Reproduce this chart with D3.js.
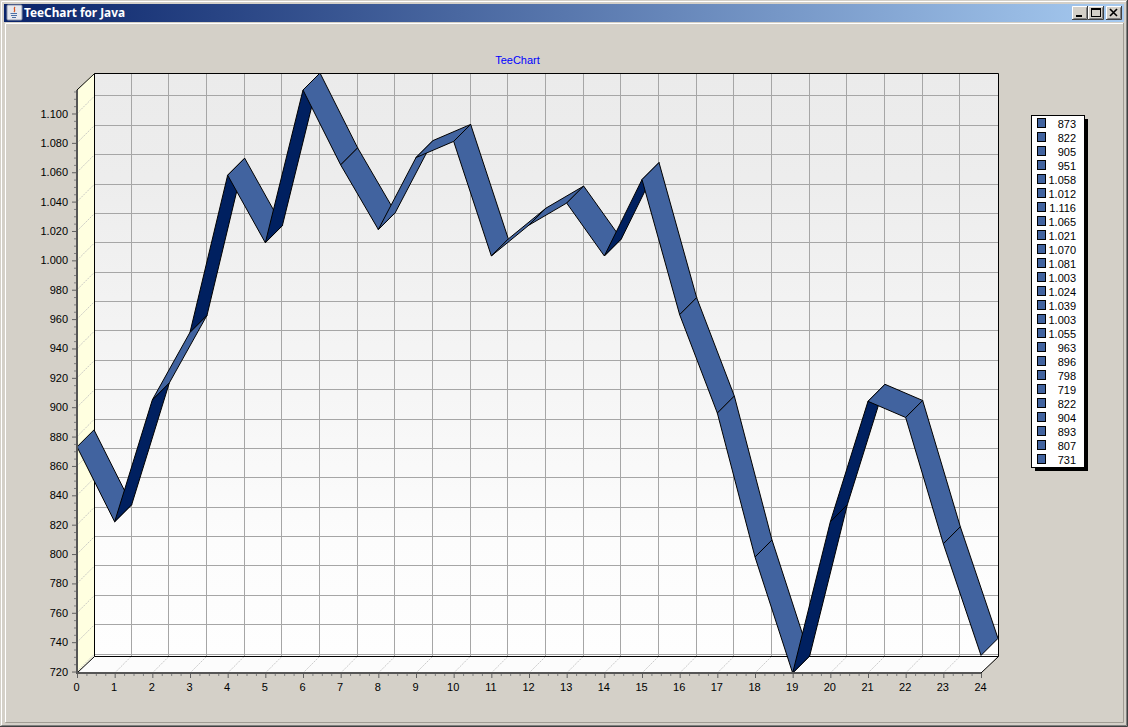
<!DOCTYPE html>
<html>
<head>
<meta charset="utf-8">
<script src="https://cdn.jsdelivr.net/npm/d3@7/dist/d3.min.js"></script>
<style>
html,body{margin:0;padding:0;background:#D4D0C8;overflow:hidden}
svg{display:block}
text{font-family:"Liberation Sans",Arial,sans-serif;font-size:11px;fill:#000}
</style>
</head>
<body>
<svg id="c" width="1128" height="727"></svg>
<script>
const windowTitle = "TeeChart for Java";
const chartTitle = "TeeChart";
const categories = d3.range(0, 25);
const values = [873,822,905,951,1058,1012,1116,1065,1021,1070,1081,1003,1024,1039,1003,1055,963,896,798,719,822,904,893,807,731];
const yTicks = d3.range(720, 1101, 20);
const yMinorTicks = d3.range(720, 1116, 5).filter(v => v % 20 !== 0);
const xMinorTicks = d3.range(0, 24.01, 0.25).filter(v => v % 1 !== 0);

const fmt = d3.formatLocale({decimal:",",thousands:".",grouping:[3],currency:["",""]}).format(",d");
const svg = d3.select("#c");
const depth = 17;
const x = d3.scaleLinear().domain([0,24]).range([77,981]);
const y = d3.scaleLinear().domain([719,1116]).range([673,90]);
const px = v => Math.floor(v-0.5)+0.5;

const defs = svg.append("defs");
const tg = defs.append("linearGradient").attr("id","titleG");
tg.append("stop").attr("offset","0").attr("stop-color","#0A246A");
tg.append("stop").attr("offset","1").attr("stop-color","#A6CAF0");
const wg = defs.append("linearGradient").attr("id","wallG").attr("x2",0).attr("y2",1);
wg.append("stop").attr("offset","0").attr("stop-color","#EBEBEB");
wg.append("stop").attr("offset","0.18").attr("stop-color","#EDEDED");
wg.append("stop").attr("offset","0.8").attr("stop-color","#FCFCFC");
wg.append("stop").attr("offset","1").attr("stop-color","#FEFEFE");

// window chrome
const chrome = svg.append("g");
chrome.append("rect").attr("width",1128).attr("height",727).attr("fill","#D4D0C8");
chrome.append("path").attr("d","M1.5 725V1.5H1126").attr("fill","none").attr("stroke","#FFFFFF");
chrome.append("path").attr("d","M0 726.5H1127.5V0").attr("fill","none").attr("stroke","#404040");
chrome.append("path").attr("d","M1.5 725.5H1126.5V1").attr("fill","none").attr("stroke","#808080");
chrome.append("rect").attr("x",4).attr("y",4).attr("width",1120).attr("height",18).attr("fill","url(#titleG)");
chrome.append("path").attr("d","M5.5 722V23.5H1123").attr("fill","none").attr("stroke","#FFFFFF");
chrome.append("path").attr("d","M5.5 722.5H1123.5V23").attr("fill","none").attr("stroke","#A09C94");
chrome.append("text").attr("x",24).attr("y",17).attr("textLength",101).attr("lengthAdjust","spacingAndGlyphs")
  .style("font-family","'Noto Sans'").style("font-weight","700").style("font-size","11.5px").style("fill","#fff").text(windowTitle);

// java icon
const ic = chrome.append("g").attr("transform","translate(7,5)");
ic.append("rect").attr("x",0).attr("y",0).attr("width",15).attr("height",15).attr("rx",1).attr("fill","#E6E8EE").attr("stroke","#8C94A8");
ic.append("path").attr("d","M8 2C6 4 9 5 7 7").attr("fill","none").attr("stroke","#D9541E").attr("stroke-width",1.3);
ic.append("path").attr("d","M3.5 8.5H10M4 10.5H10M5 12.5H9").attr("fill","none").attr("stroke","#4A6FA5");

// window buttons
const buttons = [[1072,"m"],[1088,"x"],[1106,"c"]];
buttons.forEach(([bx,k])=>{
  const g = chrome.append("g").attr("transform",`translate(${bx},6)`);
  g.append("rect").attr("width",16).attr("height",14).attr("fill","#D4D0C8");
  g.append("path").attr("d","M0.5 13V0.5H15").attr("fill","none").attr("stroke","#fff");
  g.append("path").attr("d","M0 13.5H15.5V0").attr("fill","none").attr("stroke","#404040");
  g.append("path").attr("d","M1.5 12.5H14.5V1.5").attr("fill","none").attr("stroke","#808080");
  if(k==="m") g.append("rect").attr("x",4).attr("y",9).attr("width",6).attr("height",2).attr("fill","#000");
  if(k==="x"){ g.append("rect").attr("x",3.5).attr("y",2.5).attr("width",9).attr("height",8).attr("fill","none").attr("stroke","#000");
    g.append("rect").attr("x",3).attr("y",2).attr("width",10).attr("height",2).attr("fill","#000"); }
  if(k==="c") g.append("path").attr("d","M4 3L11 10M11 3L4 10").attr("stroke","#000").attr("stroke-width",1.6);
});

// title
svg.append("text").attr("x",517.5).attr("y",64).attr("text-anchor","middle").style("fill","#0000FF").text(chartTitle);

// walls
const back = svg.append("g");
const xL=x(0), xR=x(24), yB=y.range()[0], yT=y.range()[1];
back.append("rect").attr("x",xL+depth).attr("y",yT-depth).attr("width",xR-xL).attr("height",yB-yT).attr("fill","url(#wallG)");
back.append("path").attr("d",`M${xL} ${yT}L${xL+depth} ${yT-depth}V${yB-depth}L${xL} ${yB}Z`).attr("fill","#FFFFE0");
back.append("path").attr("d",`M${xL} ${yB}L${xL+depth} ${yB-depth}H${xR+depth}L${xR} ${yB}Z`).attr("fill","#FCFCFC");

// grid
const grid = svg.append("g").attr("fill","none").attr("stroke","#A6A6A6");
grid.selectAll(".h").data(yTicks).join("path")
  .attr("d",v=>`M${xL+depth} ${px(y(v)-depth)}H${xR+depth}`);
grid.selectAll(".v").data(categories.slice(1,24)).join("path")
  .attr("d",v=>`M${px(x(v)+depth)} ${yT-depth}V${yB-depth}`);
const grid3 = svg.append("g").attr("fill","none").attr("stroke","#BDBDBD").attr("stroke-width",0.8).attr("stroke-dasharray","2 1");
grid3.selectAll(".w").data(yTicks).join("path")
  .attr("d",v=>`M${xL} ${y(v)}l${depth} ${-depth}`);
grid3.selectAll(".f").data(categories.slice(1,24)).join("path")
  .attr("d",v=>`M${x(v)} ${yB}l${depth} ${-depth}`);

// frame
const frame = svg.append("g").attr("fill","none").attr("stroke","#000");
frame.append("path").attr("d",`M${xL} ${yT}L${xL+depth+.5} ${yT-depth+.5}H${xR+depth+.5}V${yB-depth+.5}H${xL+depth+.5}V${yT-depth+.5}`);
frame.append("path").attr("d",`M${xL+depth+.5} ${yB-depth+.5}L${xL} ${yB}`);
frame.append("path").attr("d",`M${xR} ${yB}L${xR+depth+.5} ${yB-depth+.5}`);

// ribbon
const ribbon = svg.append("g").attr("stroke","#000").attr("stroke-width",1).attr("stroke-linejoin","round");
const segs = d3.pairs(values.map((v,i)=>({c:categories[i],v})));
ribbon.selectAll("path").data(segs).join("path")
  .attr("d",([a,b])=>{
    const x0=x(a.c),y0=y(a.v),x1=x(b.c),y1=y(b.v);
    return `M${x0} ${y0}L${x1} ${y1}L${x1+depth} ${y1-depth}L${x0+depth} ${y0-depth}Z`;
  })
  .attr("fill",([a,b])=> (b.v-a.v)>50 ? "#002060" : "#41639F");

// axes
const yAxis = d3.axisLeft(y).tickValues(yTicks).tickFormat(fmt).tickSize(5).tickPadding(4);
const gy = svg.append("g").attr("transform","translate(77,0)").call(yAxis);
const yMinor = d3.axisLeft(y).tickValues(yMinorTicks).tickFormat("").tickSize(3);
svg.append("g").attr("transform","translate(77,0)").call(yMinor).call(g=>g.select(".domain").remove()).selectAll("line").attr("stroke","#808080");
const xAxis = d3.axisBottom(x).tickValues(categories).tickFormat(d3.format("d")).tickSize(5).tickPadding(5);
const gx = svg.append("g").attr("transform",`translate(0,${yB})`).call(xAxis);
const xMinor = d3.axisBottom(x).tickValues(xMinorTicks).tickFormat("").tickSize(3);
svg.append("g").attr("transform",`translate(0,${yB})`).call(xMinor).call(g=>g.select(".domain").remove()).selectAll("line").attr("stroke","#808080");
[gx,gy].forEach(g=>{
  g.attr("font-family",null).attr("font-size",null);
  g.select(".domain").remove();
  g.selectAll("line").attr("stroke","#606060");
  g.selectAll("text").style("fill","#000");
});
gx.selectAll("text").attr("dx",-1);
svg.append("path").attr("d",`M${xL} ${yT}V${yB}H${xR}`).attr("fill","none").attr("stroke","#555").attr("stroke-width",2);

// legend
const lg = svg.append("g");
lg.append("rect").attr("x",1035).attr("y",119).attr("width",53).attr("height",352).attr("fill","#000");
lg.append("rect").attr("x",1031.5).attr("y",115.5).attr("width",53).attr("height",352).attr("fill","#fff").attr("stroke","#000");
const row = lg.selectAll(".r").data(values).join("g").attr("transform",(d,i)=>`translate(0,${124+i*14})`);
row.append("rect").attr("x",1037.5).attr("y",-5.5).attr("width",8).attr("height",9).attr("fill","#41639F").attr("stroke","#000");
row.append("text").attr("x",1076).attr("y",4).attr("text-anchor","end").text(fmt);
</script>
</body>
</html>
